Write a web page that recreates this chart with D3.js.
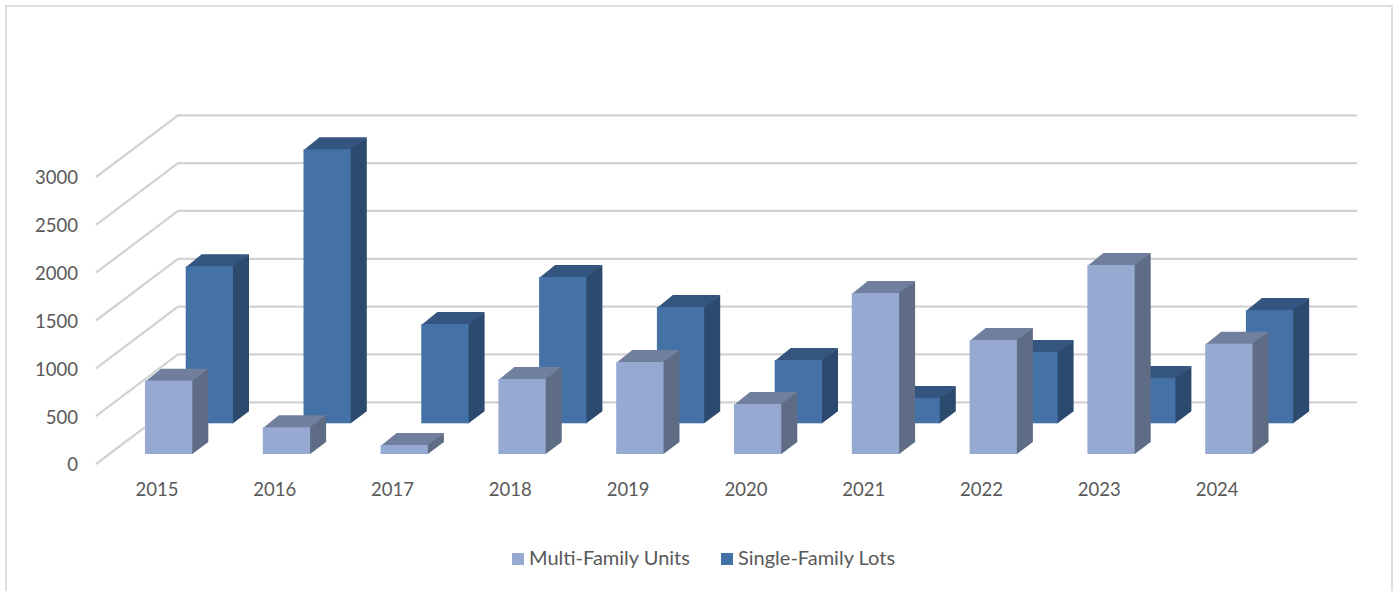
<!DOCTYPE html>
<html><head><meta charset="utf-8">
<script src="https://cdnjs.cloudflare.com/ajax/libs/d3/7.8.5/d3.min.js"></script>
<style>html,body{margin:0;padding:0;background:#fff;overflow:hidden}svg{display:block}text{font-family:Lato,"Open Sans",sans-serif;fill:#595959}</style>
</head><body><svg id="c" width="1393" height="591"></svg>
<script>
const years = ["2015","2016","2017","2018","2019","2020","2021","2022","2023","2024"];
const multiFamily = [766,279,94,784,962,523,1683,1192,1976,1153];
const singleFamily = [1641,2864,1038,1529,1216,662,264,745,474,1184];
const yTicks = [0,500,1000,1500,2000,2500,3000];
const seriesNames = ["Multi-Family Units","Single-Family Lots"];

const svg = d3.select("#c");
// frame
svg.append("path").attr("d","M6,591V6H1392V591").attr("fill","none").attr("stroke","#DEDEDE").attr("stroke-width",2);

const yBack = d3.scaleLinear().domain([0,3000]).range([402.3,115.3]);
const yFront = d3.scaleLinear().domain([0,3000]).range([464,177]);
const x = d3.scaleBand().domain(years).range([98,1276]);
const wallLeft=178, wallRight=1357, floorLeft=96;

// grid
svg.append("g").selectAll("path").data(yTicks).join("path")
  .attr("d",v=>`M${floorLeft},${yFront(v)}L${wallLeft},${yBack(v)}H${wallRight}`)
  .attr("fill","none").attr("stroke","#D2D2D2").attr("stroke-width",2.2);

// axes
const ay = svg.append("g").attr("transform","translate(78,1)")
  .call(d3.axisLeft(yFront).tickValues(yTicks).tickFormat(d3.format("d")).tickSize(0).tickPadding(0));
ay.select(".domain").remove();
ay.selectAll("text").attr("font-size",18.5).attr("fill","#595959").style("font-family","Lato");
const ax = svg.append("g").attr("transform","translate(0,483)")
  .call(d3.axisBottom(x).tickSize(0).tickPadding(0));
ax.select(".domain").remove();
ax.selectAll("text").attr("font-size",18.5).attr("fill","#595959").style("font-family","Lato");

// bars
const barW=47.3, dx=16, dy=12;
function bars(vals, off, base, c){
  const h = v => yBack(0)-yBack(v);
  const g = svg.append("g").selectAll("g").data(vals.map((v,i)=>({v,y:years[i]}))).join("g");
  g.append("path").attr("fill",c.top).attr("d",d=>{const l=x(d.y)+off,t=base-h(d.v)+1;return `M${l},${t}L${l+dx},${t-dy-1}H${l+barW+dx}L${l+barW},${t}Z`});
  g.append("path").attr("fill",c.side).attr("d",d=>{const r=x(d.y)+off+barW,t=base-h(d.v);return `M${r-1},${t}H${r}L${r+dx},${t-dy}V${base-dy}L${r},${base}H${r-1}Z`});
  g.append("rect").attr("fill",c.front).attr("x",d=>x(d.y)+off).attr("width",barW).attr("y",d=>base-h(d.v)).attr("height",d=>h(d.v));
}
const cM={front:"#96A9D0",top:"#6F7F9D",side:"#5E6C86"}, cS={front:"#4472A7",top:"#34557F",side:"#2C4A6E"};
bars(singleFamily,87.7,423.3,cS);
bars(multiFamily,47,454,cM);

// legend
const lx=[512,721];
const lg=svg.append("g").selectAll("g").data(seriesNames).join("g").attr("transform",(d,i)=>`translate(${lx[i]},553)`);
lg.append("rect").attr("width",12).attr("height",12).attr("fill",(d,i)=>i?cS.front:cM.front);
lg.append("text").attr("x",17).attr("y",12).attr("font-size",20).text(d=>d);
</script></body></html>
